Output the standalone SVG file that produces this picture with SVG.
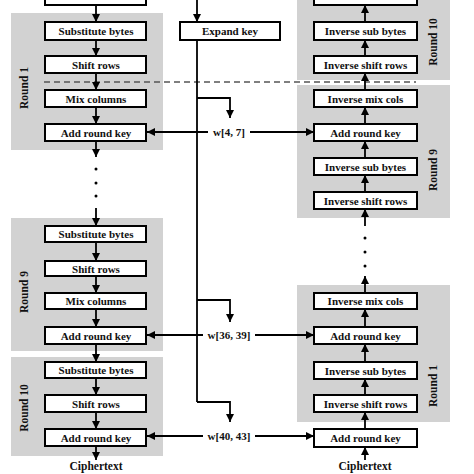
<svg xmlns="http://www.w3.org/2000/svg" width="474" height="474" viewBox="0 0 474 474">
<defs>
<marker id="ah" viewBox="0 0 10 10" refX="10" refY="5" markerWidth="8" markerHeight="8" markerUnits="userSpaceOnUse" orient="auto">
<path d="M0,0 L10,5 L0,10 Z" fill="#000"/>
</marker>
<style>
.bg{fill:#d2d2d2;stroke:none}
.box{fill:#fff;stroke:#000;stroke-width:2}
.t{font-family:"Liberation Serif","Times New Roman",serif;font-weight:bold;font-size:11px;text-anchor:middle;fill:#111}
.r{font-family:"Liberation Serif","Times New Roman",serif;font-weight:bold;font-size:11.5px;text-anchor:middle;fill:#111}
.ln{stroke:#000;stroke-width:1.8;fill:none}
.ar{stroke:#000;stroke-width:1.8;fill:none;marker-end:url(#ah)}
.dot{fill:#000}
</style>
</defs>
<rect width="474" height="474" fill="#fff"/>

<!-- round backgrounds -->
<g id="bg-left">
<rect class="bg" x="11" y="13" width="152" height="137"/>
<rect class="bg" x="11" y="218" width="152" height="133"/>
<rect class="bg" x="11" y="357" width="152" height="99"/>
</g>
<g id="bg-right">
<rect class="bg" x="297" y="-2" width="153" height="82"/>
<rect class="bg" x="297" y="85" width="153" height="133"/>
<rect class="bg" x="297" y="285" width="153" height="137"/>
</g>

<!-- dashed separator -->
<line x1="44" y1="82" x2="416" y2="82" stroke="#555" stroke-width="1.5" stroke-dasharray="6,4"/>

<!-- round labels -->
<g id="labels">
<text class="r" transform="translate(28,88) rotate(-90)">Round 1</text>
<text class="r" transform="translate(28,292) rotate(-90)">Round 9</text>
<text class="r" transform="translate(28,408) rotate(-90)">Round 10</text>
<text class="r" transform="translate(437,42) rotate(-90)">Round 10</text>
<text class="r" transform="translate(437,170) rotate(-90)">Round 9</text>
<text class="r" transform="translate(437,386) rotate(-90)">Round 1</text>
</g>

<!-- connectors -->
<g id="connectors">
<!-- left column -->
<line class="ar" x1="96" y1="5" x2="96" y2="22"/>
<line class="ar" x1="96" y1="40" x2="96" y2="56"/>
<line class="ar" x1="96" y1="73" x2="96" y2="90"/>
<line class="ar" x1="96" y1="107" x2="96" y2="124"/>
<line class="ar" x1="96" y1="141" x2="96" y2="157"/>
<circle class="dot" cx="96" cy="169" r="1.5"/>
<circle class="dot" cx="96" cy="183" r="1.5"/>
<circle class="dot" cx="96" cy="196" r="1.5"/>
<line class="ar" x1="96" y1="208" x2="96" y2="226"/>
<line class="ar" x1="96" y1="242" x2="96" y2="261"/>
<line class="ar" x1="96" y1="276" x2="96" y2="293"/>
<line class="ar" x1="96" y1="309" x2="96" y2="327"/>
<line class="ar" x1="96" y1="344" x2="96" y2="362"/>
<line class="ar" x1="96" y1="378" x2="96" y2="395"/>
<line class="ar" x1="96" y1="412" x2="96" y2="429"/>
<line class="ar" x1="96" y1="446" x2="96" y2="460"/>
<!-- right column -->
<line class="ar" x1="365" y1="22" x2="365" y2="5"/>
<line class="ar" x1="365" y1="56" x2="365" y2="40"/>
<line class="ar" x1="365" y1="90" x2="365" y2="73"/>
<line class="ar" x1="365" y1="124" x2="365" y2="107"/>
<line class="ar" x1="365" y1="158" x2="365" y2="141"/>
<line class="ar" x1="365" y1="192" x2="365" y2="175"/>
<line class="ar" x1="365" y1="226" x2="365" y2="209"/>
<circle class="dot" cx="365" cy="238" r="1.5"/>
<circle class="dot" cx="365" cy="252" r="1.5"/>
<circle class="dot" cx="365" cy="266" r="1.5"/>
<line class="ar" x1="365" y1="293" x2="365" y2="276"/>
<line class="ar" x1="365" y1="327" x2="365" y2="309"/>
<line class="ar" x1="365" y1="362" x2="365" y2="344"/>
<line class="ar" x1="365" y1="395" x2="365" y2="379"/>
<line class="ar" x1="365" y1="429" x2="365" y2="412"/>
<line class="ar" x1="365" y1="460" x2="365" y2="447"/>
<!-- key schedule -->
<line class="ar" x1="197" y1="-2" x2="197" y2="22"/>
<line class="ln" x1="197" y1="40" x2="197" y2="402"/>
<path class="ar" d="M197,98 H230 V118"/>
<path class="ar" d="M197,300 H230 V322"/>
<path class="ar" d="M197,402 H230 V422"/>
<line class="ar" x1="208" y1="132" x2="147" y2="132"/>
<line class="ar" x1="250" y1="132" x2="314" y2="132"/>
<line class="ar" x1="203" y1="335" x2="147" y2="335"/>
<line class="ar" x1="255" y1="335" x2="314" y2="335"/>
<line class="ar" x1="203" y1="436" x2="147" y2="436"/>
<line class="ar" x1="255" y1="436" x2="314" y2="436"/>
</g>

<!-- left column nodes -->
<g id="l-top"><rect class="box" x="45" y="-10" width="101" height="15"/></g>
<g id="l-sub1"><rect class="box" x="45" y="22" width="101" height="18"/><text class="t" x="96" y="35">Substitute bytes</text></g>
<g id="l-shift1"><rect class="box" x="45" y="56" width="101" height="17"/><text class="t" x="96" y="68.5">Shift rows</text></g>
<g id="l-mix1"><rect class="box" x="45" y="90" width="101" height="17"/><text class="t" x="96" y="102.5">Mix columns</text></g>
<g id="l-ark1"><rect class="box" x="45" y="124" width="101" height="17"/><text class="t" x="96" y="136.5">Add round key</text></g>
<g id="l-sub9"><rect class="box" x="45" y="226" width="101" height="16"/><text class="t" x="96" y="238">Substitute bytes</text></g>
<g id="l-shift9"><rect class="box" x="45" y="261" width="101" height="15"/><text class="t" x="96" y="272.5">Shift rows</text></g>
<g id="l-mix9"><rect class="box" x="45" y="293" width="101" height="16"/><text class="t" x="96" y="305">Mix columns</text></g>
<g id="l-ark9"><rect class="box" x="45" y="327" width="101" height="17"/><text class="t" x="96" y="339.5">Add round key</text></g>
<g id="l-sub10"><rect class="box" x="45" y="362" width="101" height="16"/><text class="t" x="96" y="374">Substitute bytes</text></g>
<g id="l-shift10"><rect class="box" x="45" y="395" width="101" height="17"/><text class="t" x="96" y="407.5">Shift rows</text></g>
<g id="l-ark10"><rect class="box" x="45" y="429" width="101" height="17"/><text class="t" x="96" y="441.5">Add round key</text></g>
<g id="l-out"><text class="r" x="96" y="470">Ciphertext</text></g>

<!-- middle -->
<g id="expand"><rect class="box" x="180" y="22" width="100" height="18"/><text class="t" x="230" y="35">Expand key</text></g>
<g id="w4"><text class="t" x="229" y="136">w[4, 7]</text></g>
<g id="w36"><text class="t" x="229" y="339">w[36, 39]</text></g>
<g id="w40"><text class="t" x="229" y="440">w[40, 43]</text></g>

<!-- right column nodes -->
<g id="r-top"><rect class="box" x="314" y="-10" width="103" height="15"/></g>
<g id="r-isb10"><rect class="box" x="314" y="22" width="103" height="18"/><text class="t" x="365.5" y="35">Inverse sub bytes</text></g>
<g id="r-isr10"><rect class="box" x="314" y="56" width="103" height="17"/><text class="t" x="365.5" y="68.5">Inverse shift rows</text></g>
<g id="r-imc9"><rect class="box" x="314" y="90" width="103" height="17"/><text class="t" x="365.5" y="102.5">Inverse mix cols</text></g>
<g id="r-ark9"><rect class="box" x="314" y="124" width="103" height="17"/><text class="t" x="365.5" y="136.5">Add round key</text></g>
<g id="r-isb9"><rect class="box" x="314" y="158" width="103" height="17"/><text class="t" x="365.5" y="170.5">Inverse sub bytes</text></g>
<g id="r-isr9"><rect class="box" x="314" y="192" width="103" height="17"/><text class="t" x="365.5" y="204.5">Inverse shift rows</text></g>
<g id="r-imc1"><rect class="box" x="314" y="293" width="103" height="16"/><text class="t" x="365.5" y="305">Inverse mix cols</text></g>
<g id="r-ark1"><rect class="box" x="314" y="327" width="103" height="17"/><text class="t" x="365.5" y="339.5">Add round key</text></g>
<g id="r-isb1"><rect class="box" x="314" y="362" width="103" height="17"/><text class="t" x="365.5" y="374.5">Inverse sub bytes</text></g>
<g id="r-isr1"><rect class="box" x="314" y="395" width="103" height="17"/><text class="t" x="365.5" y="407.5">Inverse shift rows</text></g>
<g id="r-ark0"><rect class="box" x="314" y="429" width="103" height="18"/><text class="t" x="365.5" y="442">Add round key</text></g>
<g id="r-in"><text class="r" x="365" y="470">Ciphertext</text></g>
</svg>
